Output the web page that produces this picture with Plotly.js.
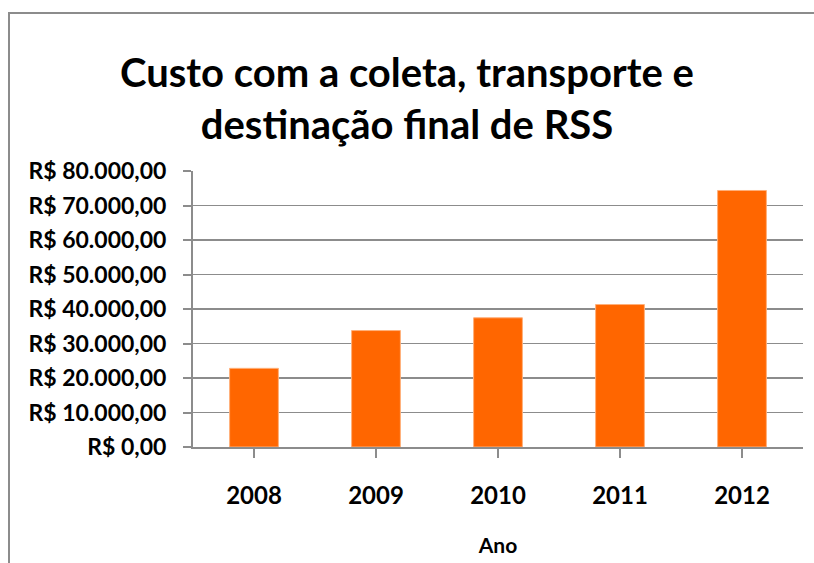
<!DOCTYPE html>
<html>
<head>
<meta charset="utf-8">
<script src="https://cdn.plot.ly/plotly-3.0.1.min.js"></script>
<style>
  body { margin: 0; background: #fff; overflow: hidden; }
  #frame { position: absolute; left: 8px; top: 12px; width: 900px; height: 600px; border: 2px solid #8c8c8c; }
  #chart { position: absolute; left: 0; top: 0; }
</style>
</head>
<body>
<div id="frame"></div>
<div id="chart"></div>
<script>
let anos = ['2008', '2009', '2010', '2011', '2012'];
let custos = [22800, 33750, 37450, 41300, 74350];

let trace = [{
  x: anos,
  y: custos,
  type: 'bar',
  marker: {color: '#ff6600', line: {color: '#ffb07a', width: 1}},
  hoverinfo: 'none'
}];

let fonte = 'Lato, Carlito, "Open Sans", sans-serif';

let layout = {
  width: 814,
  height: 563,
  paper_bgcolor: 'rgba(0,0,0,0)',
  plot_bgcolor: 'rgba(0,0,0,0)',
  margin: {l: 193, r: 11, t: 171, b: 116},
  separators: ',.',
  bargap: 0.6,
  showlegend: false,
  font: {family: fonte, color: '#000'},
  title: {
    text: '<b>Custo com a coleta, transporte e<br>destinação final de RSS</b>',
    font: {family: fonte, size: 40, color: '#000'},
    xref: 'container', x: 0.5, xanchor: 'center',
    yref: 'container', y: 0.845, yanchor: 'middle'
  },
  xaxis: {
    title: {text: '<b>Ano</b>', font: {family: fonte, size: 21}, standoff: 31},
    tickfont: {family: fonte, size: 24, weight: 'bold'},
    showline: true, linecolor: '#8c8c8c', linewidth: 2,
    ticks: 'outside', ticklen: 9, tickcolor: '#8c8c8c', tickwidth: 2,
    tickson: 'boundaries',
    ticklabelstandoff: 17,
    showgrid: false
  },
  yaxis: {
    range: [0, 80000],
    dtick: 10000,
    tickprefix: 'R$ ',
    tickformat: ',.2f',
    tickfont: {family: fonte, size: 23, weight: 'bold'},
    showline: true, linecolor: '#8c8c8c', linewidth: 2,
    ticks: 'outside', ticklen: 8, tickcolor: '#8c8c8c', tickwidth: 2,
    ticklabelstandoff: 12,
    gridcolor: '#8c8c8c', gridwidth: 1.6,
    zeroline: false
  }
};

Plotly.newPlot('chart', trace, layout, {displayModeBar: false, staticPlot: true});
</script>
</body>
</html>
